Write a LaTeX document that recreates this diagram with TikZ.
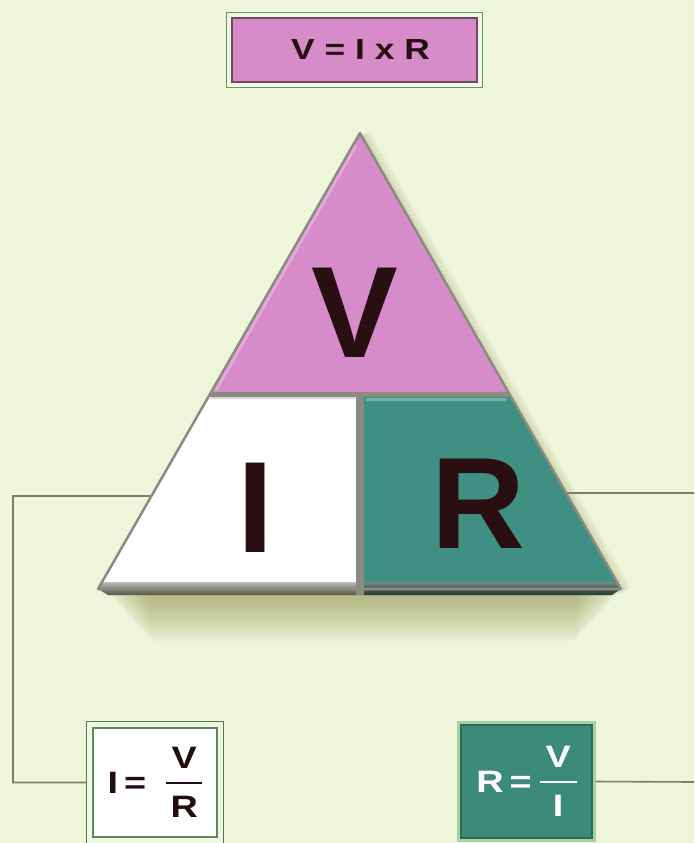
\documentclass[tikz,border=0pt]{standalone}
\usepackage{fontspec}
\setmainfont{Liberation Sans}
\newfontfamily\widesans[FakeStretch=1.22]{Liberation Sans}
\usetikzlibrary{calc,backgrounds}

\definecolor{bgc}{HTML}{EEF5DB}
\definecolor{pinkc}{HTML}{D68CC8}
\definecolor{pinkhi}{HTML}{E6A8DA}
\definecolor{tealc}{HTML}{3F8F82}
\definecolor{tealhi}{HTML}{8CCBC3}
\definecolor{boxteal}{HTML}{3C8A7A}
\definecolor{inkc}{HTML}{2A0F12}
\definecolor{edgec}{HTML}{8C8B82}
\definecolor{wirec}{HTML}{847A68}
\definecolor{shadowc}{HTML}{8C8C40}
\definecolor{bandw}{HTML}{55554A}
\definecolor{bandt}{HTML}{1E3B30}
\definecolor{topout}{HTML}{5E9A5A}
\definecolor{topgap}{HTML}{F3F6E6}
\definecolor{topin}{HTML}{6B4B5E}
\definecolor{lout}{HTML}{4D7D4F}
\definecolor{lgap}{HTML}{EEF6E4}
\definecolor{lin}{HTML}{5A8A5A}
\definecolor{rout}{HTML}{A3D3A0}
\definecolor{rin}{HTML}{2F6B57}

\newcommand{\fracstack}[3]{\raisebox{-24pt}{\vbox{\offinterlineskip\halign{\hfil##\hfil\cr #1\cr\noalign{\kern 13pt}\rule{#3}{2.5pt}\cr\noalign{\kern 12pt}#2\cr}}}}

\tikzset{
  bigletter/.style={inner sep=0pt, text=inkc, font=\fontsize{130}{130}\selectfont\bfseries},
  formulabox/.style={inner sep=0pt, font=\widesans\fontsize{31}{31}\selectfont\bfseries},
  wire/.style={draw=wirec, line width=1.6pt},
  divider/.style={draw=edgec, line cap=butt},
}

\begin{document}
\begin{tikzpicture}[x=1pt,y=-1pt]
\useasboundingbox (0,0) rectangle (694,843);

% triangle geometry
\coordinate (A) at (360,133);
\coordinate (B) at (98,589);
\coordinate (C) at (621,589);
\coordinate (ML) at ($(A)!0.5724!(B)$);
\coordinate (MR) at ($(A)!0.5724!(C)$);
\coordinate (MT) at (360,394);
\coordinate (MB) at (360,589);
\coordinate (TL) at ($(A)!0.796!(B)$);
\coordinate (TR) at ($(A)!0.7895!(C)$);
\coordinate (Lbend) at (13,496);
\coordinate (Rend1) at (694,493);
\coordinate (Rend2) at (694,782);

% boxes
\node[inner sep=0pt, minimum width=245pt, minimum height=64pt, fill=pinkc, draw=topin, line width=2.5pt, outer sep=5.5pt,
      font=\widesans\fontsize{29}{29}\selectfont\bfseries, text=inkc] (vir) at (354.5,50) {\hspace*{12pt}V = I x R};
\node[formulabox, minimum width=124pt, minimum height=109pt, fill=white, draw=lin, line width=2pt, outer sep=6.5pt, text=inkc!80!black]
      (ibox) at (155,782.5) {I\hspace{6pt}=\hspace{20pt}\fracstack{V}{R}{36pt}\hspace{15pt}};
\node[formulabox, minimum width=131pt, minimum height=113pt, fill=boxteal, draw=rin, line width=2pt, outer sep=3.5pt, text=white]
      (rbox) at (526.5,781.5) {R\hspace{6pt}=\hspace{8pt}\fracstack{V}{I}{37pt}};

\begin{scope}[on background layer]
  \fill[bgc] (0,0) rectangle (694,843);
  \draw[topout, fill=topgap, line width=1.5pt] (vir.north west) rectangle (vir.south east);
  \draw[lout, fill=lgap, line width=1.8pt] (ibox.north west) rectangle (ibox.south east);
  \draw[rout, fill=rout, line width=1.5pt] (rbox.north west) rectangle (rbox.south east);
\end{scope}

% connectors
\draw[wire] (TL) -- (Lbend) |- (ibox.west);
\draw[wire] (TR) -- (Rend1);
\draw[wire] (rbox.east) -- (Rend2);

% soft shadow below and right of the triangle
\foreach \i in {0,...,19}{
  \fill[shadowc, opacity=0.035, rounded corners=6pt] (108+2.2*\i,588) rectangle (618-2.2*\i,596+2.4*\i);
}
\foreach \w in {4,8,12,16}{
  \draw[shadowc, opacity=0.06, line width=\w pt] ($(A)+(3,2)$) -- ($(C)+(3,2)$);
}

% triangle parts
\fill[pinkc] (A) -- (ML) -- (MR) -- cycle;
\fill[white] (ML) -- (B) -- (MB) -- (MT) -- cycle;
\fill[tealc] (MT) -- (MB) -- (C) -- (MR) -- cycle;

% bevel highlights
\draw[pinkhi, line width=3pt] ($(A)!0.04!(ML)+(2,2)$) -- ($(ML)+(6,-4)$);
\draw[tealhi, line width=3pt, opacity=0.6] (366,399.5) -- ($(MR)+(-3,5.5)$);
\draw[black!25, line width=2pt, opacity=0.6] ($(ML)+(1,4)$) -- (355,398);

% bottom thickness band
\shade[top color=bandw!40, bottom color=bandw] (B) -- (102,582) -- (360,582) -- (360,595) -- (108,595) -- cycle;
\shade[top color=bandt!60, bottom color=bandt] (360,582) -- (617,582) -- (C) -- (612,595) -- (360,595) -- cycle;

% outlines and dividers
\draw[edgec, line width=2.5pt, line join=round] (A) -- (B) -- (C) -- cycle;
\draw[divider, line width=5pt] (ML) -- (MR);
\draw[divider, line width=8pt] (MT) -- ($(MB)+(0,6)$);

% letters
\node[bigletter, anchor=base] (lv) at (355,357) {V};
\node[bigletter, anchor=base] (li) at (256,552) {I};
\node[bigletter, anchor=base] (lr) at (478.5,548) {R};
\end{tikzpicture}
\end{document}
